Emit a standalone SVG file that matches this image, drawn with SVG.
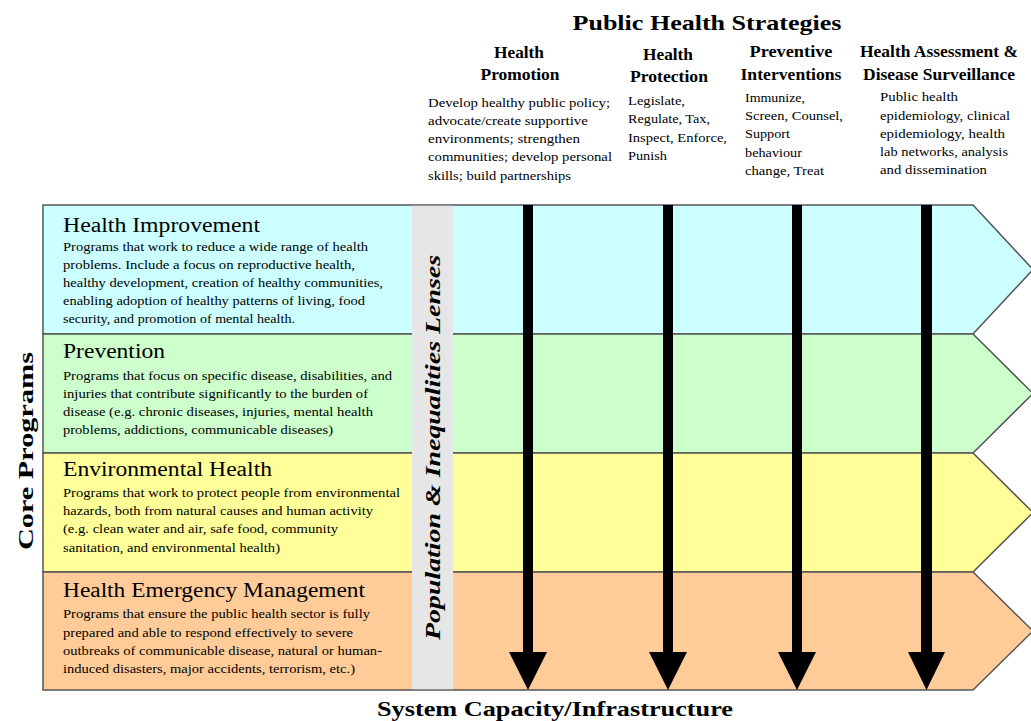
<svg xmlns="http://www.w3.org/2000/svg" width="1031" height="721" viewBox="0 0 1031 721">
<style>
text{font-family:"Liberation Serif","Times New Roman",serif;fill:#000}
.title{font-size:22px;font-weight:bold}
.head{font-size:16.5px;font-weight:bold;text-anchor:middle}
.desc{font-size:13px}
.btitle{font-size:20px}
.body{font-size:12.5px}
.band{stroke:#555;stroke-width:1.5}
.arrow{fill:#000}
</style>
<rect width="1031" height="721" fill="#fff"/>
<g id="bands">
<g id="health-improvement">
<polygon class="band" points="43,205 973,205 1033,269.5 973,334 43,334" fill="#ccffff"/>
</g>
<g id="prevention">
<polygon class="band" points="43,334 973,334 1033,393.5 973,453 43,453" fill="#ccffcc"/>
</g>
<g id="environmental-health">
<polygon class="band" points="43,453 973,453 1033,512.5 973,572 43,572" fill="#ffff99"/>
</g>
<g id="health-emergency">
<polygon class="band" points="43,572 973,572 1033,631 973,690 43,690" fill="#ffcc99"/>
</g>
</g>
<g id="lens">
<rect x="412" y="205.8" width="41" height="483.4" fill="#e6e6e6"/>
<text transform="translate(440,640) rotate(-90)" font-size="22" font-weight="bold" font-style="italic" textLength="385" lengthAdjust="spacingAndGlyphs">Population &amp; Inequalities Lenses</text>
</g>
<g id="band-text">
<text class="btitle" x="63" y="232" textLength="197" lengthAdjust="spacingAndGlyphs">Health Improvement</text>
<text class="body" x="63" y="251" textLength="305" lengthAdjust="spacingAndGlyphs">Programs that work to reduce a wide range of health</text>
<text class="body" x="63" y="269" textLength="292" lengthAdjust="spacingAndGlyphs">problems.  Include a focus on reproductive health,</text>
<text class="body" x="63" y="287" textLength="320" lengthAdjust="spacingAndGlyphs">healthy development, creation of healthy communities,</text>
<text class="body" x="63" y="305" textLength="302" lengthAdjust="spacingAndGlyphs">enabling adoption of healthy patterns of living, food</text>
<text class="body" x="63" y="323" textLength="232" lengthAdjust="spacingAndGlyphs">security, and promotion of mental health.</text>

<text class="btitle" x="63" y="358" textLength="102" lengthAdjust="spacingAndGlyphs">Prevention</text>
<text class="body" x="63" y="380" textLength="329" lengthAdjust="spacingAndGlyphs">Programs that focus on specific disease, disabilities, and</text>
<text class="body" x="63" y="398" textLength="305" lengthAdjust="spacingAndGlyphs">injuries that contribute significantly to the burden of</text>
<text class="body" x="63" y="416" textLength="310" lengthAdjust="spacingAndGlyphs">disease (e.g. chronic diseases, injuries, mental health</text>
<text class="body" x="63" y="434" textLength="270" lengthAdjust="spacingAndGlyphs">problems, addictions, communicable diseases)</text>

<text class="btitle" x="63" y="476" textLength="209" lengthAdjust="spacingAndGlyphs">Environmental Health</text>
<text class="body" x="63" y="497" textLength="337" lengthAdjust="spacingAndGlyphs">Programs that work to protect people from environmental</text>
<text class="body" x="63" y="515" textLength="310" lengthAdjust="spacingAndGlyphs">hazards, both from natural causes and human activity</text>
<text class="body" x="63" y="533" textLength="275" lengthAdjust="spacingAndGlyphs">(e.g. clean water and air, safe food, community</text>
<text class="body" x="63" y="552" textLength="217" lengthAdjust="spacingAndGlyphs">sanitation, and environmental health)</text>

<text class="btitle" x="63" y="597" textLength="302" lengthAdjust="spacingAndGlyphs">Health Emergency Management</text>
<text class="body" x="63" y="618" textLength="307" lengthAdjust="spacingAndGlyphs">Programs that ensure the public health sector is fully</text>
<text class="body" x="63" y="637" textLength="290" lengthAdjust="spacingAndGlyphs">prepared and able to respond effectively to severe</text>
<text class="body" x="63" y="655" textLength="319" lengthAdjust="spacingAndGlyphs">outbreaks of communicable disease, natural or human-</text>
<text class="body" x="63" y="673" textLength="292" lengthAdjust="spacingAndGlyphs">induced disasters, major accidents, terrorism, etc.)</text>
</g>
<g id="connectors">
<g id="arrow-promotion"><rect class="arrow" x="523" y="205" width="10" height="448"/><polygon class="arrow" points="509,652 547,652 528,690"/></g>
<g id="arrow-protection"><rect class="arrow" x="663" y="205" width="10" height="448"/><polygon class="arrow" points="649,652 687,652 668,690"/></g>
<g id="arrow-preventive"><rect class="arrow" x="792" y="205" width="10" height="448"/><polygon class="arrow" points="778,652 816,652 797,690"/></g>
<g id="arrow-assessment"><rect class="arrow" x="921" y="205" width="11" height="448"/><polygon class="arrow" points="908,652 945,652 926.5,690"/></g>
</g>
<g id="header">
<text class="title" x="707" y="30" text-anchor="middle" textLength="269" lengthAdjust="spacingAndGlyphs">Public Health Strategies</text>
<g id="col-promotion">
<text class="head" x="519" y="58" textLength="50" lengthAdjust="spacingAndGlyphs">Health</text>
<text class="head" x="520" y="80" textLength="79" lengthAdjust="spacingAndGlyphs">Promotion</text>
<text class="desc" x="428" y="107" textLength="182" lengthAdjust="spacingAndGlyphs">Develop healthy public policy;</text>
<text class="desc" x="428" y="125" textLength="160" lengthAdjust="spacingAndGlyphs">advocate/create supportive</text>
<text class="desc" x="428" y="143" textLength="152" lengthAdjust="spacingAndGlyphs">environments; strengthen</text>
<text class="desc" x="428" y="161" textLength="184" lengthAdjust="spacingAndGlyphs">communities; develop personal</text>
<text class="desc" x="428" y="180" textLength="143" lengthAdjust="spacingAndGlyphs">skills; build partnerships</text>
</g>
<g id="col-protection">
<text class="head" x="668" y="60" textLength="50" lengthAdjust="spacingAndGlyphs">Health</text>
<text class="head" x="669" y="82" textLength="78" lengthAdjust="spacingAndGlyphs">Protection</text>
<text class="desc" x="628" y="105" textLength="57" lengthAdjust="spacingAndGlyphs">Legislate,</text>
<text class="desc" x="628" y="123" textLength="82" lengthAdjust="spacingAndGlyphs">Regulate, Tax,</text>
<text class="desc" x="628" y="142" textLength="99" lengthAdjust="spacingAndGlyphs">Inspect, Enforce,</text>
<text class="desc" x="628" y="160" textLength="39" lengthAdjust="spacingAndGlyphs">Punish</text>
</g>
<g id="col-preventive">
<text class="head" x="791" y="57" textLength="83" lengthAdjust="spacingAndGlyphs">Preventive</text>
<text class="head" x="791" y="80" textLength="101" lengthAdjust="spacingAndGlyphs">Interventions</text>
<text class="desc" x="745" y="102" textLength="60" lengthAdjust="spacingAndGlyphs">Immunize,</text>
<text class="desc" x="745" y="120" textLength="98" lengthAdjust="spacingAndGlyphs">Screen,  Counsel,</text>
<text class="desc" x="745" y="138" textLength="45" lengthAdjust="spacingAndGlyphs">Support</text>
<text class="desc" x="745" y="157" textLength="57" lengthAdjust="spacingAndGlyphs">behaviour</text>
<text class="desc" x="745" y="175" textLength="79" lengthAdjust="spacingAndGlyphs">change, Treat</text>
</g>
<g id="col-assessment">
<text class="head" x="939" y="57" textLength="158" lengthAdjust="spacingAndGlyphs">Health Assessment &amp;</text>
<text class="head" x="939" y="80" textLength="152" lengthAdjust="spacingAndGlyphs">Disease Surveillance</text>
<text class="desc" x="880" y="101" textLength="78" lengthAdjust="spacingAndGlyphs">Public health</text>
<text class="desc" x="880" y="120" textLength="130" lengthAdjust="spacingAndGlyphs">epidemiology, clinical</text>
<text class="desc" x="880" y="138" textLength="125" lengthAdjust="spacingAndGlyphs">epidemiology, health</text>
<text class="desc" x="880" y="156" textLength="128" lengthAdjust="spacingAndGlyphs">lab networks, analysis</text>
<text class="desc" x="880" y="174" textLength="107" lengthAdjust="spacingAndGlyphs">and dissemination</text>
</g>
</g>
<text id="core-programs" class="title" transform="translate(33,550) rotate(-90)" font-size="23" textLength="198" lengthAdjust="spacingAndGlyphs">Core Programs</text>
<text id="system-capacity" class="title" x="377" y="716" textLength="356" lengthAdjust="spacingAndGlyphs">System Capacity/Infrastructure</text>
</svg>
